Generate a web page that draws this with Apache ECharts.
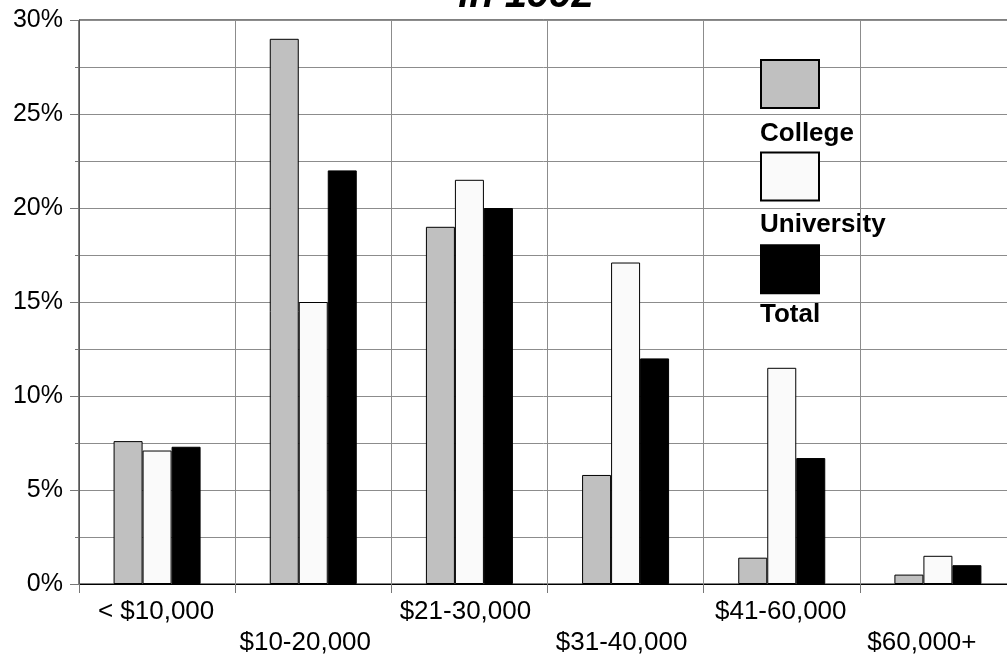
<!DOCTYPE html>
<html>
<head>
<meta charset="utf-8">
<title>Graduate income distribution, 1992</title>
<script src="https://cdn.jsdelivr.net/npm/echarts@6/dist/echarts.min.js"></script>
<style>
  html, body { margin: 0; padding: 0; background: #fff; }
  #chart { width: 1007px; height: 656px; }
</style>
</head>
<body>
<div id="chart"></div>
<script>
// Income brackets and the share of graduates (%) in each
const categories = ['< $10,000', '$10-20,000', '$21-30,000', '$31-40,000', '$41-60,000', '$60,000+'];
const seriesNames = ['College', 'University', 'Total'];
const college = [7.6, 29, 19, 5.8, 1.4, 0.5];
const university = [7.1, 15, 21.5, 17.1, 11.5, 1.5];
const total = [7.3, 22, 20, 12, 6.7, 1.0];
const titleText = 'in 1992';

const fills = ['#c0c0c0', '#fafafa', '#000000'];
const values = [college, university, total];
const font = 'Liberation Sans, Arial, Helvetica, sans-serif';
const gridGray = '#8c8c8c';
// small leftward nudges (px) for the bracket labels
const labelNudge = [1, 8, 4, 4, 1, 16];

const chart = echarts.init(document.getElementById('chart'), null, { renderer: 'canvas' });

const series = seriesNames.map((name, i) => ({
  name: name,
  type: 'bar',
  data: values[i],
  barWidth: 29,
  barGap: '0%',
  itemStyle: { color: fills[i], borderColor: '#000', borderWidth: 1 },
  emphasis: { disabled: true },
  animation: false
}));

// legend labels sit under each swatch
const legendTop = 59, legendStep = 90.6, swatchH = 48;
const legendLabels = seriesNames.map((name, i) => ({
  type: 'text',
  left: 760,
  top: legendTop + i * legendStep + swatchH + 14,
  style: {
    text: name,
    fill: '#000',
    font: 'bold 26px ' + font
  },
  silent: true
}));

const labelRich = {};
labelNudge.forEach((d, i) => {
  labelRich['s' + i] = {
    fontFamily: font,
    fontSize: 26,
    color: '#000',
    lineHeight: 31,
    padding: [0, 2 * d, 0, 0]
  };
});

chart.setOption({
  animation: false,
  backgroundColor: '#fff',
  grid: {
    left: 79, top: 20, width: 937, height: 564,
    outerBoundsMode: 'none',
    containLabel: false,
    show: true, borderColor: '#000', borderWidth: 1, backgroundColor: 'transparent'
  },
  legend: {
    data: seriesNames,
    orient: 'vertical',
    left: 760,
    top: legendTop,
    itemWidth: 58,
    itemHeight: swatchH,
    itemGap: legendStep - swatchH,
    icon: 'rect',
    selectedMode: false,
    formatter: () => '',
    padding: 0
  },
  xAxis: {
    type: 'category',
    data: categories,
    axisLine: { lineStyle: { color: '#000', width: 1 } },
    axisTick: { show: true, interval: 0, length: 9, lineStyle: { color: '#777' } },
    splitLine: { show: true, interval: 0, lineStyle: { color: gridGray, width: 1 } },
    axisLabel: {
      interval: 0,
      margin: 12,
      color: '#000',
      fontFamily: font,
      fontSize: 26,
      lineHeight: 31,
      rich: labelRich,
      formatter: (v, i) => (i % 2 ? '\n' : '') + '{s' + i + '|' + v + '}'
    }
  },
  yAxis: {
    type: 'value',
    min: 0,
    max: 30,
    interval: 5,
    axisLine: { show: true, lineStyle: { color: '#555' } },
    axisTick: { show: true, length: 9, lineStyle: { color: '#777' } },
    minorTick: { show: true, splitNumber: 2, length: 4, lineStyle: { color: '#777' } },
    splitLine: { show: true, lineStyle: { color: gridGray, width: 1 } },
    minorSplitLine: { show: true, lineStyle: { color: gridGray, width: 1 } },
    axisLabel: {
      margin: 16,
      color: '#000',
      fontFamily: font,
      fontSize: 25,
      formatter: v => v + '%'
    }
  },
  graphic: [
    {
      type: 'text',
      x: 526,
      y: -4,
      style: {
        text: titleText,
        fill: '#000',
        font: 'italic bold 40px ' + font,
        textAlign: 'center',
        textVerticalAlign: 'middle'
      },
      silent: true
    }
  ].concat(legendLabels),
  series: series
});
</script>
</body>
</html>
